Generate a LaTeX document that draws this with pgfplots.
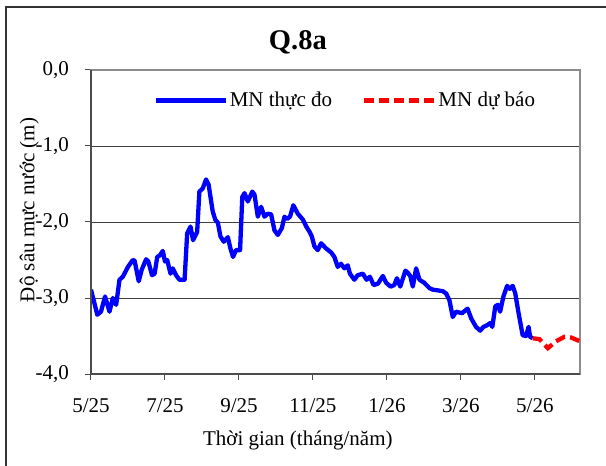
\documentclass[border=0pt]{standalone}
\usepackage{pgfplots}
\pgfplotsset{compat=1.18}
\usepackage{fontspec}
\setmainfont{Liberation Serif}
\newcommand\cf{\fontsize{21bp}{25bp}\selectfont}

% x = months since 5/25, y = water depth (m)
\pgfplotstableread{
x y
0.00 -2.89
0.17 -3.22
0.27 -3.18
0.38 -2.98
0.50 -3.18
0.59 -3.00
0.68 -3.09
0.77 -2.76
0.86 -2.72
1.00 -2.59
1.13 -2.50
1.18 -2.51
1.29 -2.78
1.37 -2.63
1.49 -2.49
1.55 -2.52
1.65 -2.70
1.72 -2.68
1.79 -2.46
1.86 -2.44
1.94 -2.38
2.00 -2.52
2.06 -2.50
2.15 -2.68
2.21 -2.61
2.30 -2.70
2.39 -2.76
2.53 -2.76
2.60 -2.15
2.69 -2.06
2.76 -2.24
2.87 -2.13
2.93 -1.60
3.02 -1.56
3.11 -1.44
3.18 -1.51
3.29 -1.86
3.36 -1.97
3.43 -2.01
3.50 -2.19
3.59 -2.26
3.70 -2.20
3.77 -2.35
3.84 -2.46
3.92 -2.37
4.03 -2.37
4.09 -1.67
4.15 -1.62
4.24 -1.73
4.36 -1.60
4.42 -1.64
4.51 -1.93
4.60 -1.80
4.69 -1.93
4.78 -1.89
4.87 -1.90
4.96 -2.11
5.05 -2.17
5.16 -2.08
5.23 -1.93
5.30 -1.96
5.38 -1.93
5.47 -1.78
5.59 -1.89
5.73 -1.97
5.82 -2.06
5.91 -2.13
5.97 -2.19
6.04 -2.32
6.13 -2.37
6.22 -2.28
6.36 -2.35
6.49 -2.40
6.58 -2.46
6.67 -2.59
6.76 -2.55
6.85 -2.61
6.94 -2.57
7.00 -2.68
7.12 -2.76
7.21 -2.70
7.35 -2.68
7.45 -2.76
7.54 -2.72
7.64 -2.83
7.76 -2.81
7.89 -2.71
7.98 -2.80
8.10 -2.85
8.20 -2.83
8.27 -2.74
8.36 -2.85
8.50 -2.64
8.57 -2.67
8.63 -2.71
8.70 -2.85
8.79 -2.61
8.88 -2.76
9.01 -2.80
9.15 -2.87
9.24 -2.89
9.38 -2.90
9.51 -2.91
9.60 -2.94
9.69 -3.03
9.78 -3.25
9.87 -3.18
10.03 -3.20
10.18 -3.14
10.28 -3.27
10.41 -3.38
10.52 -3.43
10.61 -3.38
10.70 -3.36
10.79 -3.33
10.85 -3.38
10.93 -3.11
11.00 -3.09
11.06 -3.18
11.15 -2.98
11.25 -2.84
11.32 -2.88
11.40 -2.84
11.47 -2.94
11.56 -3.20
11.67 -3.49
11.76 -3.50
11.83 -3.38
11.87 -3.51
11.94 -3.53
}\measured

\pgfplotstableread{
x y
11.94 -3.53
12.12 -3.54
12.35 -3.66
12.57 -3.57
12.80 -3.51
12.98 -3.52
13.22 -3.57
}\forecast

\begin{document}
\cf
\begin{tikzpicture}
\useasboundingbox (-91bp,-92bp) rectangle (515bp,374bp);
\begin{axis}[
    name=ax, at={(0,0)}, anchor=south west,
    scale only axis, width=489bp, height=304bp,
    xmin=0, xmax=13.22, ymin=-4, ymax=0,
    xtick={0,2,4,6,8,10,12},
    xticklabels={5/25,7/25,9/25,11/25,1/26,3/26,5/26},
    ytick={0,-1,-2,-3,-4},
    tick label style={font=\cf},
    xticklabel style={yshift=-11bp},
    yticklabel style={xshift=-9bp, /pgf/number format/.cd, fixed, fixed zerofill, precision=1, use comma, assume math mode=true},
    tick align=outside, major tick length=6bp,
    tick style={black!70, line width=1bp},
    xtick pos=bottom, ytick pos=left,
    ymajorgrids,
    grid style={black!75, line width=0.9bp},
    axis line style={draw=black!45, line width=1.5bp},
    title={\textbf{Q.8a}},
    title style={font=\fontsize{28.5bp}{32bp}\selectfont, at={(axis description cs:0.423,1)}, anchor=base, yshift=15bp},
    xlabel={Thời gian (tháng/năm)},
    ylabel={Độ sâu mực nước (m)},
    xlabel style={font=\cf, at={(axis description cs:0.423,-0.22)}, anchor=center},
    ylabel style={font=\cf, at={(axis description cs:-0.126,0.54)}, anchor=center},
    legend columns=2,
    legend style={at={(axis description cs:0.52,0.90)}, anchor=center, draw=none, fill=none, font=\cf,
        /tikz/every even column/.append style={column sep=28bp}},
    legend image code/.code={\draw[#1] (0bp,0bp) -- (70bp,0bp);},
]
\addplot[blue, line width=4.3bp, line join=round, no marks] table {\measured};
\addlegendentry{MN thực đo}
\addplot[red, line width=4.3bp, dash pattern=on 10bp off 5bp, no marks] table {\forecast};
\addlegendentry{MN dự báo}
\end{axis}
\draw[black!70, line width=1.5bp] (ax.north west) -- (ax.south west) -- (ax.south east);
\draw[black!80, line width=1.2bp] (-85bp,-130bp) rectangle (560bp,367bp);
\end{tikzpicture}
\end{document}
